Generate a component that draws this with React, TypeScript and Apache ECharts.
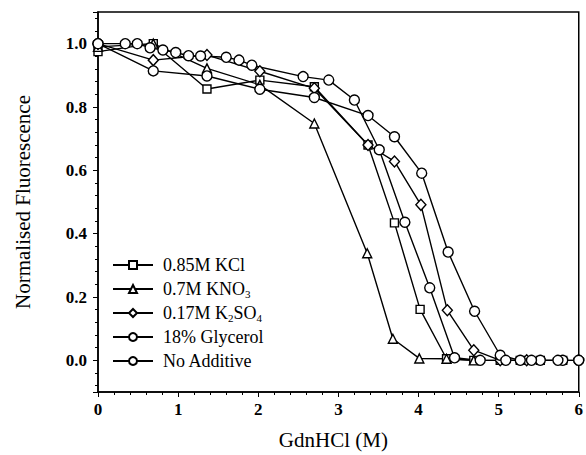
import React, { useEffect, useRef } from "react";
import * as echarts from "echarts";

const seriesNames = ["0.85M KCl", "0.7M KNO3", "0.17M K2SO4", "18% Glycerol", "No Additive"];
const legendLabels = ["0.85M KCl", "0.7M KNO{sub|3}", "0.17M K{sub|2}SO{sub|4}", "18% Glycerol", "No Additive"];

const kclX = [0, 0.69, 1.36, 2.02, 2.7, 3.37, 3.7, 4.02, 4.35, 4.69, 5.02, 5.27, 5.52, 5.8];
const kclY = [0.975, 1.0, 0.857, 0.885, 0.864, 0.68, 0.434, 0.161, 0.005, 0.0, 0.0, 0.0, 0.0, 0.0];

const kno3X = [0, 0.69, 1.36, 2.02, 2.7, 3.36, 3.68, 4.01, 4.35, 4.69];
const kno3Y = [0.99, 1.0, 0.922, 0.87, 0.748, 0.338, 0.068, 0.006, 0.005, 0.0];

const k2so4X = [0, 0.69, 1.36, 2.02, 2.7, 3.37, 3.7, 4.03, 4.36, 4.69, 5.02, 5.35];
const k2so4Y = [1.0, 0.948, 0.964, 0.913, 0.859, 0.68, 0.628, 0.491, 0.158, 0.032, 0.0, 0.0];

const glycX = [0, 0.69, 1.36, 2.02, 2.7, 3.37, 3.7, 4.04, 4.37, 4.7, 5.02, 5.27, 5.52, 5.8, 6.0];
const glycY = [1.0, 0.914, 0.898, 0.856, 0.83, 0.773, 0.706, 0.591, 0.342, 0.155, 0.016, 0.0, 0.0, 0.0, 0.0];

const noAddX = [0, 0.34, 0.49, 0.65, 0.81, 0.97, 1.13, 1.28, 1.6, 1.76, 1.92, 2.56, 2.88, 3.2, 3.51, 3.83, 4.14, 4.45, 4.77, 5.09, 5.41, 5.74, 6.0];
const noAddY = [1.0, 1.0, 1.0, 0.987, 0.98, 0.972, 0.962, 0.961, 0.957, 0.948, 0.932, 0.896, 0.885, 0.822, 0.665, 0.436, 0.229, 0.008, 0.0, 0.0, 0.0, 0.0, 0.0];

const xTitle = "GdnHCl (M)";
const yTitle = "Normalised Fluorescence";

const FONT = "'Liberation Serif', 'DejaVu Serif', 'Times New Roman', serif";

function pairs(xs: number[], ys: number[]) {
  return xs.map((x, i) => [x, ys[i]]);
}

export default function App() {
  const ref = useRef<HTMLDivElement>(null);
  useEffect(() => {
    if (!ref.current) return;
    const chart = echarts.init(ref.current, null, { renderer: "svg" });
    const mk = (name: string, data: number[][], symbol: string, size: any) => ({
      name,
      type: "line",
      data,
      symbol,
      symbolSize: size,
      showAllSymbol: true,
      lineStyle: { color: "#000", width: 1.4 },
      itemStyle: { color: "#fff", borderColor: "#000", borderWidth: 1.4 },
      emphasis: { disabled: true },
    });
    chart.setOption({
      animation: false,
      backgroundColor: "#fff",
      grid: {
        left: 98,
        right: 3,
        top: 12,
        bottom: 63,
        show: true,
        borderColor: "#000",
        borderWidth: 1.5,
        backgroundColor: "transparent",
      },
      legend: {
        orient: "vertical",
        left: 112,
        top: 255,
        padding: 0,
        itemWidth: 40,
        itemHeight: 10,
        itemGap: 4,
        data: seriesNames,
        formatter: (n: string) => legendLabels[seriesNames.indexOf(n)],
        textStyle: {
          fontFamily: FONT,
          fontSize: 18,
          color: "#000",
          padding: [0, 0, 0, 5],
          lineHeight: 20,
          rich: {
            sub: { fontFamily: FONT, fontSize: 11, color: "#000", verticalAlign: "bottom", lineHeight: 10 },
          },
        },
      },
      xAxis: {
        type: "value",
        min: 0,
        max: 6,
        interval: 1,
        name: xTitle,
        nameLocation: "middle",
        nameGap: 37,
        nameTextStyle: { fontFamily: FONT, fontSize: 21, color: "#000", padding: [0, 10, 0, 0] },
        axisLine: { show: true, onZero: false, lineStyle: { color: "#000", width: 1.5 } },
        axisTick: { show: true, length: 5, lineStyle: { color: "#000", width: 1 } },
        minorTick: { show: true, splitNumber: 5, length: 3, lineStyle: { color: "#000", width: 1 } },
        splitLine: { show: false },
        axisLabel: {
          fontFamily: FONT,
          fontSize: 17,
          fontWeight: "bold",
          color: "#000",
          margin: 9,
        },
      },
      yAxis: {
        type: "value",
        min: -0.1,
        max: 1.1,
        splitNumber: 6,
        name: yTitle,
        nameLocation: "middle",
        nameGap: 65,
        nameTextStyle: { fontFamily: FONT, fontSize: 21, color: "#000" },
        axisLine: { show: true, onZero: false, lineStyle: { color: "#000", width: 1.5 } },
        axisTick: { show: true, length: 5, lineStyle: { color: "#000", width: 1 } },
        minorTick: { show: true, splitNumber: 5, length: 3, lineStyle: { color: "#000", width: 1 } },
        splitLine: { show: false },
        axisLabel: {
          fontFamily: FONT,
          fontSize: 17,
          fontWeight: "bold",
          color: "#000",
          margin: 11,
          showMinLabel: false,
          showMaxLabel: false,
          formatter: (v: number) => v.toFixed(1),
        },
      },
      series: [
        mk(seriesNames[0], pairs(kclX, kclY), "rect", 8),
        mk(seriesNames[1], pairs(kno3X, kno3Y), "triangle", 9),
        mk(seriesNames[2], pairs(k2so4X, k2so4Y), "diamond", [10, 11]),
        mk(seriesNames[3], pairs(glycX, glycY), "circle", 10),
        mk(seriesNames[4], pairs(noAddX, noAddY), "circle", 10),
      ],
    });
    return () => chart.dispose();
  }, []);
  return <div ref={ref} style={{ width: 586, height: 455, position: "absolute", left: 0, top: 0 }} />;
}
